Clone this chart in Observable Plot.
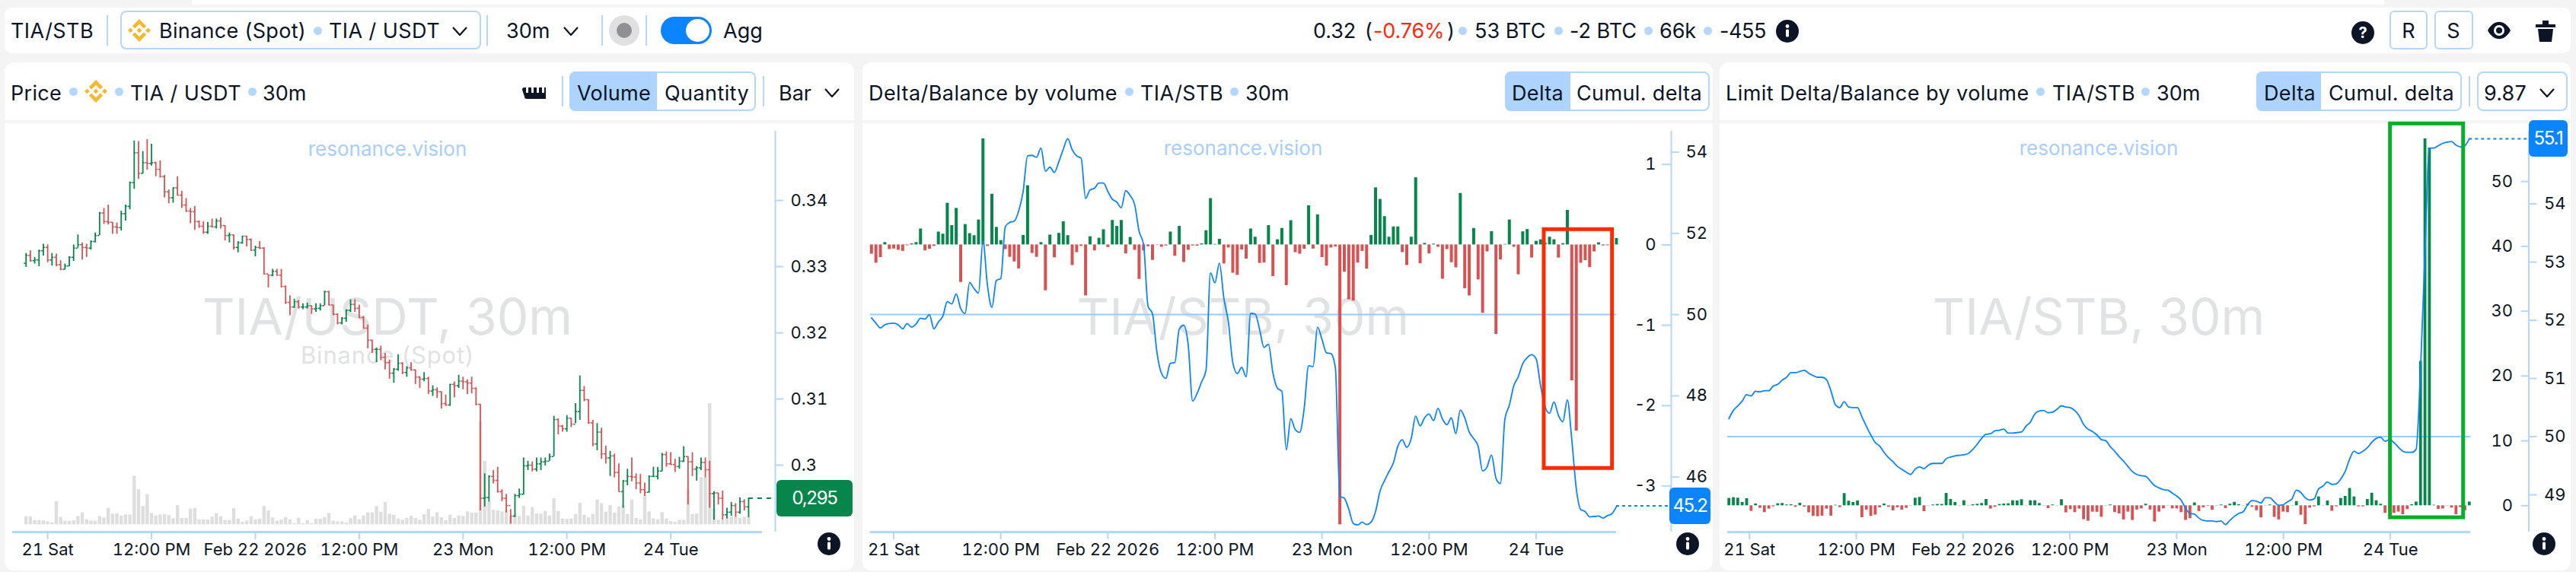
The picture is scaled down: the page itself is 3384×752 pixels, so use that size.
<!DOCTYPE html>
<html><head><meta charset="utf-8">
<style>
html,body{margin:0;padding:0;width:3384px;height:752px;overflow:hidden;background:#f4f4f4;font-family:Inter,sans-serif;color:#0b1526}
.a{position:absolute;white-space:nowrap}
.box{position:absolute;background:#fff;box-sizing:border-box}
svg{display:block}
</style>
<script src="https://cdn.jsdelivr.net/npm/d3@7"></script>
<script src="https://cdn.jsdelivr.net/npm/@observablehq/plot@0.6"></script>
</head><body><script>
// ---------- data (30-minute bars) ----------
const barCount = 168;
const firstBar = Date.UTC(2026, 1, 20, 21, 30);
const firstOpenE4 = 3305;
// prices are in 1/10000 USDT
const highE4 = [3320,3324,3314,3325,3334,3333,3320,3319,3309,3304,3315,3333,3348,3336,3334,3339,3351,3382,3388,3393,3367,3366,3384,3393,3428,3490,3489,3474,3492,3485,3458,3460,3438,3416,3419,3436,3414,3403,3388,3391,3369,3368,3367,3372,3372,3374,3362,3351,3348,3338,3346,3346,3342,3331,3338,3329,3288,3296,3296,3296,3271,3256,3251,3249,3244,3245,3241,3244,3244,3263,3263,3242,3229,3223,3235,3250,3250,3242,3225,3212,3189,3177,3180,3169,3159,3146,
3167,3155,3149,3155,3144,3134,3140,3133,3120,3117,3111,3106,3122,3126,3136,3133,3129,3133,3117,3092,2987,2984,2992,2997,2963,2956,2933,2956,2964,3011,3006,3005,3011,3011,3011,3017,3074,3070,3060,3075,3071,3093,3135,3119,3099,3068,3063,3056,3029,3021,3017,3002,2977,2994,3011,2987,2986,2973,2984,2997,2997,3018,3020,3019,3009,3012,3028,3013,3019,2998,3011,3011,3006,2960,2958,2961,2935,2944,2942,2951,2948,2950];
const lowE4 = [3299,3307,3304,3300,3316,3306,3301,3300,3294,3295,3300,3308,3328,3310,3314,3325,3336,3347,3364,3363,3349,3349,3354,3369,3386,3417,3432,3440,3446,3452,3436,3434,3404,3395,3396,3407,3388,3382,3365,3355,3358,3349,3349,3359,3357,3357,3339,3336,3325,3321,3334,3330,3323,3315,3326,3288,3268,3285,3286,3268,3243,3226,3237,3236,3235,3236,3228,3231,3233,3241,3241,3226,3212,3212,3216,3231,3231,3222,3206,3176,3169,3155,3158,3144,3130,3124,
3142,3137,3133,3142,3122,3116,3126,3107,3104,3101,3085,3089,3089,3102,3116,3114,3107,3108,3090,2931,2937,2944,2972,2958,2945,2928,2911,2921,2950,2955,2992,2990,2990,2992,2999,3006,3013,3046,3050,3050,3057,3063,3068,3096,3062,3028,3022,3009,3002,2983,2981,2960,2935,2969,2975,2963,2957,2953,2958,2982,2978,2990,2997,3001,2989,2994,3004,2940,2983,2976,2992,2981,2935,2917,2940,2917,2919,2923,2921,2926,2931,2921];
const closeE4 = [3317,3309,3310,3324,3329,3310,3314,3303,3296,3301,3314,3328,3333,3329,3328,3338,3347,3381,3368,3367,3360,3359,3380,3391,3427,3472,3441,3457,3456,3457,3447,3436,3413,3404,3419,3408,3393,3384,3383,3368,3361,3352,3361,3360,3369,3362,3347,3348,3329,3336,3346,3341,3325,3329,3328,3289,3287,3293,3287,3270,3246,3239,3247,3239,3239,3241,3236,3237,3241,3262,3242,3228,3215,3222,3234,3243,3237,3223,3207,3189,3175,3175,3163,3155,3139,3145,
3154,3140,3147,3144,3133,3130,3131,3112,3114,3111,3093,3091,3122,3120,3127,3126,3124,3116,3092,2950,2951,2983,2977,2960,2950,2939,2923,2954,2956,2999,3000,2994,3002,3005,3006,3013,3069,3059,3055,3071,3062,3081,3113,3099,3064,3032,3050,3017,3011,3014,2989,2960,2976,2983,2982,2973,2963,2959,2983,2983,2991,3016,3002,3001,2998,3006,3013,3005,2994,2996,3004,2993,2957,2958,2950,2925,2929,2939,2929,2945,2937,2950];
const volume = [32,32,17,17,15,12,7,91,29,14,14,16,33,47,20,15,14,32,27,65,42,44,35,40,39,192,139,72,119,45,35,39,40,37,24,76,25,25,62,65,19,19,19,30,44,32,17,17,64,22,10,15,32,20,22,73,55,27,15,19,29,20,5,26,5,17,5,22,22,29,45,14,12,12,7,24,35,20,35,47,47,72,50,88,42,37,
23,18,26,33,25,18,40,60,31,48,28,16,38,25,35,33,51,46,46,406,250,88,58,55,51,58,33,38,33,73,35,68,43,42,53,35,103,53,23,21,23,41,85,38,28,41,98,83,50,76,46,71,75,41,98,25,20,115,51,23,20,48,23,13,10,18,18,138,41,43,186,186,478,63,18,18,28,32,28,25,30,33];
const delta = [-.115,-.227,-.157,.029,-.058,-.051,-.067,-.08,-.01,.013,.029,.198,-.074,-.054,-.019,.16,.134,.518,.24,.454,-.467,.253,.141,.115,.31,1.318,-.019,.63,.218,.054,-.058,-.154,-.211,-.298,.118,.736,-.106,-.154,.029,-.57,.122,-.16,.144,.288,.115,-.256,-.096,-.019,-.634,.102,-.074,.083,.189,-.032,.304,.23,.304,-.112,.093,-.067,-.429,-.074,-.022,-.192,.003,-.029,-.013,.16,-.141,.23,-.218,-.067,-.013,-.016,.013,.176,.576,.006,.07,-.237,-.038,-.352,-.378,-.064,-.176,.198,.096,-.23,-.224,.24,-.394,.064,.205,-.506,.301,-.096,-.115,-.054,.486,-.051,.374,-.157,-.262,-.038,-.026,-3.48,-.339,-.682,-.698,-.224,-.08,-.301,.118,.71,.566,.352,.096,.224,.224,-.096,-.256,.096,.835,-.234,.019,-.112,.01,-.029,-.426,-.058,-.221,-.285,.64,-.544,-.634,.205,-.435,-.851,-.086,.166,-1.114,-.186,.006,.31,-.029,-.371,.163,.192,-.163,.045,.064,.022,.096,.064,-.163,.016,.429,-1.69,-2.314,-.227,-.195,-.282,-.086,.026,-.013,-.01,.045,.08];
const balance = [49.92,49.79,49.67,49.75,49.78,49.79,49.75,49.65,49.78,49.69,49.77,49.91,49.89,50,49.65,49.82,49.96,50.32,50.26,50.51,50.15,50.03,50.79,50.64,50.53,51.81,50.72,50.18,50.84,50.89,52.16,52.27,52.3,52.55,53.03,53.91,53.92,53.87,54.1,53.53,53.63,53.5,53.76,54.07,54.33,54.06,53.91,53.85,52.86,53.07,53.11,53.24,53.24,53.03,52.84,52.77,52.63,53.05,52.93,52.71,52.05,51.73,50.21,50.02,49.07,48.56,48.43,48.8,48.82,49.64,49.74,49.26,47.87,48.06,48.34,48.63,51.03,50.78,51.27,50.4,49.83,48.82,48.55,48.7,48.47,50.03,50.02,49.64,49.19,49.27,48.56,48.19,48.11,46.67,47.44,47.17,47.1,47.68,48.74,48.72,49.69,49.39,49.06,49.04,48.69,45.53,45.48,45.21,44.86,44.82,44.89,44.83,44.89,45.15,45.65,45.91,46.13,46.35,46.76,46.92,46.73,46.95,47.5,47.26,47.46,47.55,47.39,47.69,47.43,47.29,47.46,47.07,47.65,47.46,47.11,46.95,46.76,46.15,46.25,46.54,45.97,45.84,47.43,47.77,48.25,48.47,48.79,48.94,49.01,48.91,48.25,47.74,47.57,47.85,47.52,47.36,47.9,46.92,45.72,45.2,45.15,45.02,45.03,45.04,44.99,45.05,45.1,45.27];
const limitDelta = [1.13,1.25,1.17,.51,1.09,-.86,.27,-.39,-1.05,-.51,-.16,.31,.35,.12,.16,-.23,.39,-.2,-1.09,-1.64,-1.68,-1.6,-.51,-1.6,.08,-.27,1.88,.7,.51,.74,-1.84,-.66,-1.64,-1.44,-.31,.27,-.23,-.78,-.31,-.66,-.39,-.04,1.17,1.29,-.9,-.04,.12,.2,.2,1.91,.98,.51,-.04,.78,-.04,.16,.23,.35,.98,-.51,-.23,.2,.27,.31,.78,.74,.94,-.04,.78,.78,.35,-.04,-.43,.12,-.04,.94,-1.09,-.59,-1.05,-.51,-2.15,-2.38,-.98,-1,
-1.78,-.04,.12,-1.05,-1.25,-2.18,-.97,-2.26,-.65,-.48,.24,-.65,-2.5,-.97,-.48,-.04,-.48,-.48,-1.05,-2.26,-1.98,.44,-.89,-.32,-.08,-.69,.04,.12,-.44,.24,.53,.16,-.04,.24,-.24,-.77,-1.86,-.04,.12,-1.78,-2.18,-.97,-1.05,.04,.65,-1.45,-2.91,-.36,-.16,1.37,-.04,.73,-.85,-.16,1.13,1.45,2.67,1.37,-.16,-.16,.97,1.94,.77,.24,-1.17,-1,-1.17,-.97,-1.37,-.57,.16,.57,22.26,56.6,55.19,.08,-.57,-.48,-.04,-.36,-1.37,-.28,-.77,.57];
const limitBalance = [50.31,50.45,50.53,50.61,50.72,50.7,50.78,50.77,50.79,50.79,50.87,50.9,50.97,51.02,51.1,51.1,51.12,51.14,51.09,51.05,51.02,51.02,50.98,50.79,50.55,50.5,50.6,50.51,50.5,50.5,50.34,50.18,50.03,49.9,49.84,49.73,49.64,49.57,49.49,49.44,49.39,49.35,49.44,49.48,49.45,49.51,49.54,49.54,49.54,49.62,49.65,49.67,49.68,49.69,49.71,49.78,49.87,49.97,50.04,50.05,50.1,50.11,50.13,50.06,50.06,50.07,50.08,50.18,50.25,50.39,50.44,50.45,50.41,50.42,50.47,50.53,50.51,50.5,50.45,50.36,50.21,50.13,50.09,50.03,
49.95,49.93,49.83,49.75,49.66,49.58,49.49,49.4,49.35,49.33,49.32,49.24,49.16,49.12,49.09,49.08,49.03,48.98,48.91,48.77,48.68,48.67,48.6,48.56,48.55,48.55,48.54,48.55,48.49,48.56,48.63,48.68,48.71,48.83,48.9,48.89,48.86,48.95,48.95,48.88,48.82,48.83,48.88,48.93,49.08,49.04,48.95,48.91,48.93,49.1,49.15,49.22,49.18,49.19,49.27,49.4,49.61,49.75,49.71,49.75,49.81,49.9,49.97,49.99,49.92,49.95,49.9,49.82,49.75,49.73,49.73,49.78,51.14,53.16,54.96,54.96,55,55.04,55.06,55.07,55.01,54.98,55,55.12];
const xTickIndex = [5,29,53,77,101,125,149];
const xTickLabels = ["21 Sat","12:00 PM","Feb 22 2026","12:00 PM","23 Mon","12:00 PM","24 Tue"];
const priceTicks = [0.30,0.31,0.32,0.33,0.34];
const priceTickLabels = ["0.3","0.31","0.32","0.33","0.34"];
const deltaTicks = [-3,-2,-1,0,1];
const balanceTicks = [46,48,50,52,54];
const limitDeltaTicks = [0,10,20,30,40,50];
const limitBalanceTicks = [49,50,51,52,53,54];

// ---------- helpers ----------
const GREEN="#07864b",RED="#d55353",BLUE="#0a84ff",PALE="#b3d7ff",INK="#0b1526",VOL="#dedede";
const MIN30=1800000;
const T=i=>new Date(firstBar+i*MIN30);
const rows=d3.range(barCount).map(i=>{
  const open=(i?closeE4[i-1]:firstOpenE4)/1e4,close=closeE4[i]/1e4;
  return {i,t:T(i),open,close,high:highE4[i]/1e4,low:lowE4[i]/1e4,vol:volume[i],delta:delta[i],balance:balance[i],ld:limitDelta[i],lb:limitBalance[i],
    t0:T(i-.42),t1:T(i+.42),up:close>=open};
});
const dir=d=>d.up?GREEN:RED;
const sgn=k=>d=>d[k]>=0?GREEN:RED;
const root=document.body;
function layer(o){
  const s=Plot.plot(Object.assign({width:3384,height:752,marginTop:172,marginBottom:53},o,
    {style:{position:"absolute",left:"0",top:"0",background:"transparent",fontFamily:"Inter",fontSize:"22px",color:INK}}));
  root.appendChild(s);return s;
}
function box(x,y,w,h,css=""){const d=document.createElement("div");d.className="box";d.style.cssText=`left:${x}px;top:${y}px;width:${w}px;height:${h}px;${css}`;root.appendChild(d);return d;}
function txt(s,x,y,o={}){const d=document.createElement("div");d.className="a";d.textContent=s;
  const tx=o.anchor==="middle"?"-50%":o.anchor==="end"?"-100%":"0";
  d.style.cssText=`left:${x}px;top:${y}px;transform:translate(${tx},-50%);font-size:${o.size||27}px;color:${o.color||INK};line-height:1;font-weight:${o.weight||400};`;root.appendChild(d);
  if(o.w){const n=d.getBoundingClientRect().width;d.style.letterSpacing=((o.w-n)/s.length).toFixed(3)+"px";}
  return d;}
function dot(x,y){box(x-5.5,y-5.5,11,11,`background:${PALE};border-radius:50%`);}
function icon(inner,x,y,w,h,vb){const d=document.createElement("div");d.className="a";d.style.cssText=`left:${x-w/2}px;top:${y-h/2}px;width:${w}px;height:${h}px`;
  d.innerHTML=`<svg width="${w}" height="${h}" viewBox="${vb}">${inner}</svg>`;root.appendChild(d);}
const bn=(x,y)=>icon('<path fill="#f3ba2f" d="M16.624 13.9202l2.7175 2.7154-7.353 7.353-7.353-7.352 2.7175-2.7164 4.6355 4.6595 4.6356-4.6595zm4.6366-4.6366L24 12l-2.7154 2.7164L18.5682 12l2.6924-2.7164zm-9.272.001l2.7163 2.6914-2.7164 2.7174v-.001L9.2721 12l2.7164-2.7154zm-9.2722-.001L5.4088 12l-2.6914 2.6924L0 12l2.7164-2.7164zM11.9885.0115l7.353 7.329-2.7174 2.7154-4.6356-4.6356-4.6355 4.6595-2.7174-2.7154 7.353-7.353z"/>',x,y,30,32,"0 0 24 24");
const chev=(x,y)=>icon(`<polyline points="1,1 10,11 19,1" fill="none" stroke="${INK}" stroke-width="2.2"/>`,x,y,20,12,"0 0 20 12");
const sep=(x,y0,y1)=>box(x-1,y0,2,y1-y0,`background:${PALE}`);
const info=(x,y)=>icon(`<circle cx="15" cy="15" r="15" fill="${INK}"/><circle cx="15" cy="8.5" r="2.4" fill="#fff"/><rect x="13" y="12.5" width="4" height="10" rx="1.5" fill="#fff"/>`,x,y,30,30,"0 0 30 30");
function seg(x0,x1,split,y0=94,y1=146){
  box(x0,y0,x1-x0,y1-y0,`border:2.5px solid ${PALE};border-radius:8px;background:#fff`);
  box(x0,y0,split-x0,y1-y0,`background:#add3ff;border-radius:8px 0 0 8px`);
}

// ---------- page chrome ----------
box(252,0,2880,6);
box(6,10,3371,60,"border-radius:10px");
txt("TIA/STB",14,40,{w:109});sep(141,20,60);
box(158,14,474,51,`border:2.5px solid ${PALE};border-radius:8px`);bn(183,40);
txt("Binance (Spot)",209,40,{w:193});dot(417,40);txt("TIA / USDT",432,40,{w:146});chev(604,41);
sep(640,20,60);txt("30m",665,40,{w:57.5});chev(750,41);sep(791,20,60);
box(800,20,40,40,"background:#e0e0e0;border-radius:50%");box(810,30,20,20,"background:#8e9094;border-radius:50%");
sep(849,20,60);
box(868,22,67,36,`background:${BLUE};border-radius:18px`);box(901,25,31,30,"background:#fff;border-radius:50%");
txt("Agg",950,40,{w:52});
txt("0.32",1725,40,{w:56});txt("(",1793,40);txt("-0.76%",1804,40,{color:"#ff2a0a",w:93.5});txt(")",1901,40);dot(1921,40);
txt("53 BTC",1937,40,{w:93.5});dot(2047,40);txt("-2 BTC",2062,40,{w:88});dot(2165,40);txt("66k",2180,40,{w:48});dot(2243,40);txt("-455",2259,40,{w:61});info(2348,41);
icon(`<circle cx="15" cy="15" r="15" fill="${INK}"/><text x="15" y="22" text-anchor="middle" font-family="Inter" font-size="20" font-weight="700" fill="#fff">?</text>`,3104,43,30,30,"0 0 30 30");
box(3139,14,50,51,`border:2.5px solid ${PALE};border-radius:6px`);txt("R",3164,40,{anchor:"middle"});
box(3198,14,51,51,`border:2.5px solid ${PALE};border-radius:6px`);txt("S",3223,40,{anchor:"middle"});
icon(`<path d="M0 13 C8 -2 22 -2 30 13 C22 28 8 28 0 13Z" fill="${INK}"/><circle cx="15" cy="13" r="7" fill="#fff"/><circle cx="15" cy="13" r="4" fill="${INK}"/>`,3283,40,30,26,"0 0 30 26");
icon(`<rect x="0" y="7" width="26" height="4" fill="${INK}"/><rect x="9" y="2" width="8" height="5" fill="${INK}"/><path d="M3 13 H23 L21 30 H5Z" fill="${INK}"/>`,3344,40,26,30,"0 0 26 30");

const panels=[[6,1116],[1133,1117],[2259,1118]];
for(const [x,w] of panels){box(x,82,w,76,"border-radius:12px 12px 0 0");box(x,162,w,588,"border-radius:0 0 12px 12px");}
// header panel 1
txt("Price",14,122,{w:67});dot(96,120);bn(126,120);dot(156,120);txt("TIA / USDT",171,122,{w:146});dot(331,120);txt("30m",345,122,{w:57.5});
icon(`<path d="M0 3 a3 3 0 0 1 3-3 h2 v7 h3 v-7 h4 v7 h3 v-7 h4 v7 h3 v-7 h4 v7 h3 v-7 h2 a3 3 0 0 1 3 3 v9 a3 3 0 0 1-3 3 h-25 a3 3 0 0 1-3-3z" fill="${INK}"/>`,701,122,31,15,"0 0 31 15");
sep(739,100,140);seg(748,993,863);txt("Volume",758,122,{w:97});txt("Quantity",873,122,{w:111});sep(1003,100,140);txt("Bar",1023,122,{w:43});chev(1093,122);
// header panel 2
txt("Delta/Balance by volume",1141,122,{w:327});dot(1483,120);txt("TIA/STB",1498,122,{w:109});dot(1621,120);txt("30m",1636,122,{w:57.5});
seg(1977,2246,2063);txt("Delta",1986,122,{w:68});txt("Cumul. delta",2071,122,{w:165});
// header panel 3
txt("Limit Delta/Balance by volume",2267,122,{w:398.6});dot(2680,120);txt("TIA/STB",2696,122,{w:109});dot(2818,120);txt("30m",2833,122,{w:57.5});
seg(2964,3234,3049);txt("Delta",2974,122,{w:68});txt("Cumul. delta",3059,122,{w:165});sep(3244,100,140);
box(3254,94,119,52,`border:2.5px solid ${PALE};border-radius:8px`);txt("9.87",3263,122,{w:56});chev(3346,122);
// watermarks
const WM="#e1e2e4",RV="#a6cfff";
[[509,"TIA/USDT, 30m"],[1633,"TIA/STB, 30m"],[2757,"TIA/STB, 30m"]].forEach(([x,s])=>txt(s,x,416,{size:66,color:WM,anchor:"middle"}));
txt("Binance (Spot)",509,466,{size:31,color:WM,anchor:"middle",w:228});
[[509,196],[1633,195],[2757,195]].forEach(([x,y])=>txt("resonance.vision",x,y,{size:26,color:RV,anchor:"middle"}));
// ---------- chart geometry ----------
function xScale(left,right,bar0,step){return {type:"utc",axis:null,domain:[T((left-bar0)/step),T((right-bar0)/step)]};}
const tickDates=xTickIndex.map(T);
const tickLabel=new Map(tickDates.map((d,i)=>[+d,xTickLabels[i]]));
const xAxis=()=>Plot.axisX({ticks:tickDates,tickFormat:d=>tickLabel.get(+d),tickSize:10,tickPadding:5,stroke:PALE,strokeWidth:2,fill:INK,fontSize:22,label:null,lineAnchor:"top"});
const yAxisOpts={stroke:PALE,strokeWidth:2,fill:INK,fontSize:22,label:null};

// ---------- panel 1: price ----------
const p1=[16,3384-1018],p1x=xScale(16,1018,33.7,5.684);
const p1End=(1001-33.7)/5.684;
layer({marginLeft:p1[0],marginRight:p1[1],x:p1x,y:{axis:null,domain:[-29,1552]},marks:[
  Plot.ruleX(rows,{x:"t",y1:0,y2:"vol",stroke:VOL,strokeWidth:4.4}),
  Plot.ruleY([-29],{x1:()=>T(-3.1),x2:()=>T(p1End),stroke:PALE,strokeWidth:3}),
  xAxis()]});
layer({marginLeft:p1[0],marginRight:p1[1],x:p1x,y:{domain:[0.28989,0.35046]},marks:[
  Plot.ruleX(rows,{x:"t",y1:"low",y2:"high",stroke:dir,strokeWidth:1.8}),
  Plot.ruleY(rows,{y:"open",x1:"t0",x2:"t",stroke:dir,strokeWidth:1.6}),
  Plot.ruleY(rows,{y:"close",x1:"t",x2:"t1",stroke:dir,strokeWidth:1.6}),
  Plot.ruleY([0.295],{x1:()=>T(167),x2:()=>T((1018-33.7)/5.684),stroke:GREEN,strokeWidth:2,strokeDasharray:"6,6"}),
  Plot.ruleX([T((1018-33.7)/5.684)],{stroke:PALE,strokeWidth:2}),
  Plot.axisY({anchor:"right",ticks:priceTicks,tickFormat:(d,i)=>priceTickLabels[i],tickSize:10,tickPadding:10,...yAxisOpts})]});
box(1020,631,100,48,`background:${GREEN};border-radius:6px`);
txt("0,295",1070,655,{size:24,color:"#fff",anchor:"middle",w:59});
info(1089,715);

// ---------- panel 2: delta + balance ----------
const p2=[1142.4,3384-2195],P2B=1144.3,P2S=5.86,p2x=xScale(p2[0],2195,P2B,P2S);
const p2Delta={domain:[-3.572,1.413]},p2Bal={domain:[44.646,54.515]};
layer({marginLeft:p2[0],marginRight:p2[1],x:p2x,y:{axis:null,...p2Bal},marks:[
  Plot.ruleY([50],{x1:()=>T((1142.4-P2B)/P2S),x2:()=>T((2123-P2B)/P2S),stroke:"#9ccaff",strokeWidth:2}),
  Plot.ruleY([44.646],{x1:()=>T((1142.4-P2B)/P2S),x2:()=>T((2123-P2B)/P2S),stroke:PALE,strokeWidth:3}),
  xAxis()]});
layer({marginLeft:p2[0],marginRight:p2[1],x:p2x,y:{axis:null,...p2Delta},marks:[
  Plot.ruleX(rows,{x:"t",y1:0,y2:"delta",stroke:sgn("delta"),strokeWidth:4})]});
layer({marginLeft:p2[0],marginRight:p2[1],x:p2x,y:p2Bal,marks:[
  Plot.line(rows,{x:"t",y:"balance",stroke:BLUE,strokeWidth:1.8,curve:"monotone-x"}),
  Plot.ruleY([45.29],{x1:()=>T(167),x2:()=>T((2195-P2B)/P2S),stroke:BLUE,strokeWidth:2,strokeDasharray:"4,4"}),
  Plot.ruleX([T((2195-P2B)/P2S)],{stroke:PALE,strokeWidth:2}),
  Plot.axisY({anchor:"right",ticks:balanceTicks,tickFormat:d=>String(d),tickSize:10,tickPadding:9,...yAxisOpts})]});
// left-hand delta axis shares the vertical line
layer({marginLeft:2195,marginRight:3384-2300,y:p2Delta,marks:[
  Plot.axisY({anchor:"left",ticks:deltaTicks,tickFormat:d=>String(d),tickSize:12,tickPadding:8,...yAxisOpts})]});
// red highlight
const redBox={x1:T(150.8),x2:T(166.1),y1:0.19,y2:-2.78};
layer({marginLeft:p2[0],marginRight:p2[1],x:p2x,y:{axis:null,...p2Delta},marks:[
  Plot.rect([redBox],{x1:"x1",x2:"x2",y1:"y1",y2:"y2",fill:"none",stroke:"#ff2a00",strokeWidth:5})]});
box(2193,641,54,48,`background:${BLUE};border-radius:6px`);
txt("45.2",2220,665,{size:24,color:"#fff",anchor:"middle",w:45});
info(2216.5,715);

// ---------- panel 3: limit delta + balance ----------
const p3=[2269,3384-3321.5],P3B=2270.7,P3S=5.824,p3x=xScale(p3[0],3321.5,P3B,P3S);
const p3AxisX=xScale(2269,3321.5,2268.5,5.846);
const p3Delta={domain:[-4.07,57.76]},p3Bal={domain:[48.36,54+(267.7-172)/76.6]};
layer({marginLeft:p3[0],marginRight:p3[1],x:p3x,y:{axis:null,...p3Bal},marks:[
  Plot.ruleY([50],{x1:()=>T((2269-P3B)/P3S),x2:()=>T((3245-P3B)/P3S),stroke:"#9ccaff",strokeWidth:2}),
  Plot.ruleY([48.36],{x1:()=>T((2269-P3B)/P3S),x2:()=>T((3245-P3B)/P3S),stroke:PALE,strokeWidth:3})]});
layer({marginLeft:p3[0],marginRight:p3[1],x:p3AxisX,y:{axis:null,...p3Bal},marks:[xAxis()]});
layer({marginLeft:p3[0],marginRight:p3[1],x:p3x,y:{axis:null,...p3Delta},marks:[
  Plot.ruleX(rows,{x:"t",y1:0,y2:"ld",stroke:sgn("ld"),strokeWidth:3.8})]});
layer({marginLeft:p3[0],marginRight:p3[1],x:p3x,y:p3Bal,marks:[
  Plot.line(rows,{x:"t",y:"lb",stroke:BLUE,strokeWidth:1.8,curve:"monotone-x"}),
  Plot.ruleY([55.12],{x1:()=>T(167),x2:()=>T((3321.5-P3B)/P3S),stroke:BLUE,strokeWidth:2,strokeDasharray:"4,4"}),
  Plot.ruleX([T((3321.5-P3B)/P3S)],{stroke:PALE,strokeWidth:2}),
  Plot.axisY({anchor:"right",ticks:limitBalanceTicks,tickFormat:d=>String(d),tickSize:10,tickPadding:10,...yAxisOpts})]});
layer({marginLeft:3321.5,marginRight:3384-3380,y:p3Delta,marks:[
  Plot.axisY({anchor:"left",ticks:limitDeltaTicks,tickFormat:d=>String(d),tickSize:10,tickPadding:11,...yAxisOpts})]});
const greenBox={x1:T(149.2),x2:T(165.7),y1:58.9,y2:-1.85};
layer({marginLeft:p3[0],marginRight:p3[1],x:p3x,y:{axis:null,...p3Delta},marks:[
  Plot.rect([greenBox],{x1:"x1",x2:"x2",y1:"y1",y2:"y2",fill:"none",stroke:"#06ae2b",strokeWidth:5})]});
box(3322,158,51,48,`background:${BLUE};border-radius:6px`);
txt("55.1",3347.5,182,{size:24,color:"#fff",anchor:"middle",w:38});
info(3342,715);
</script></body></html>
